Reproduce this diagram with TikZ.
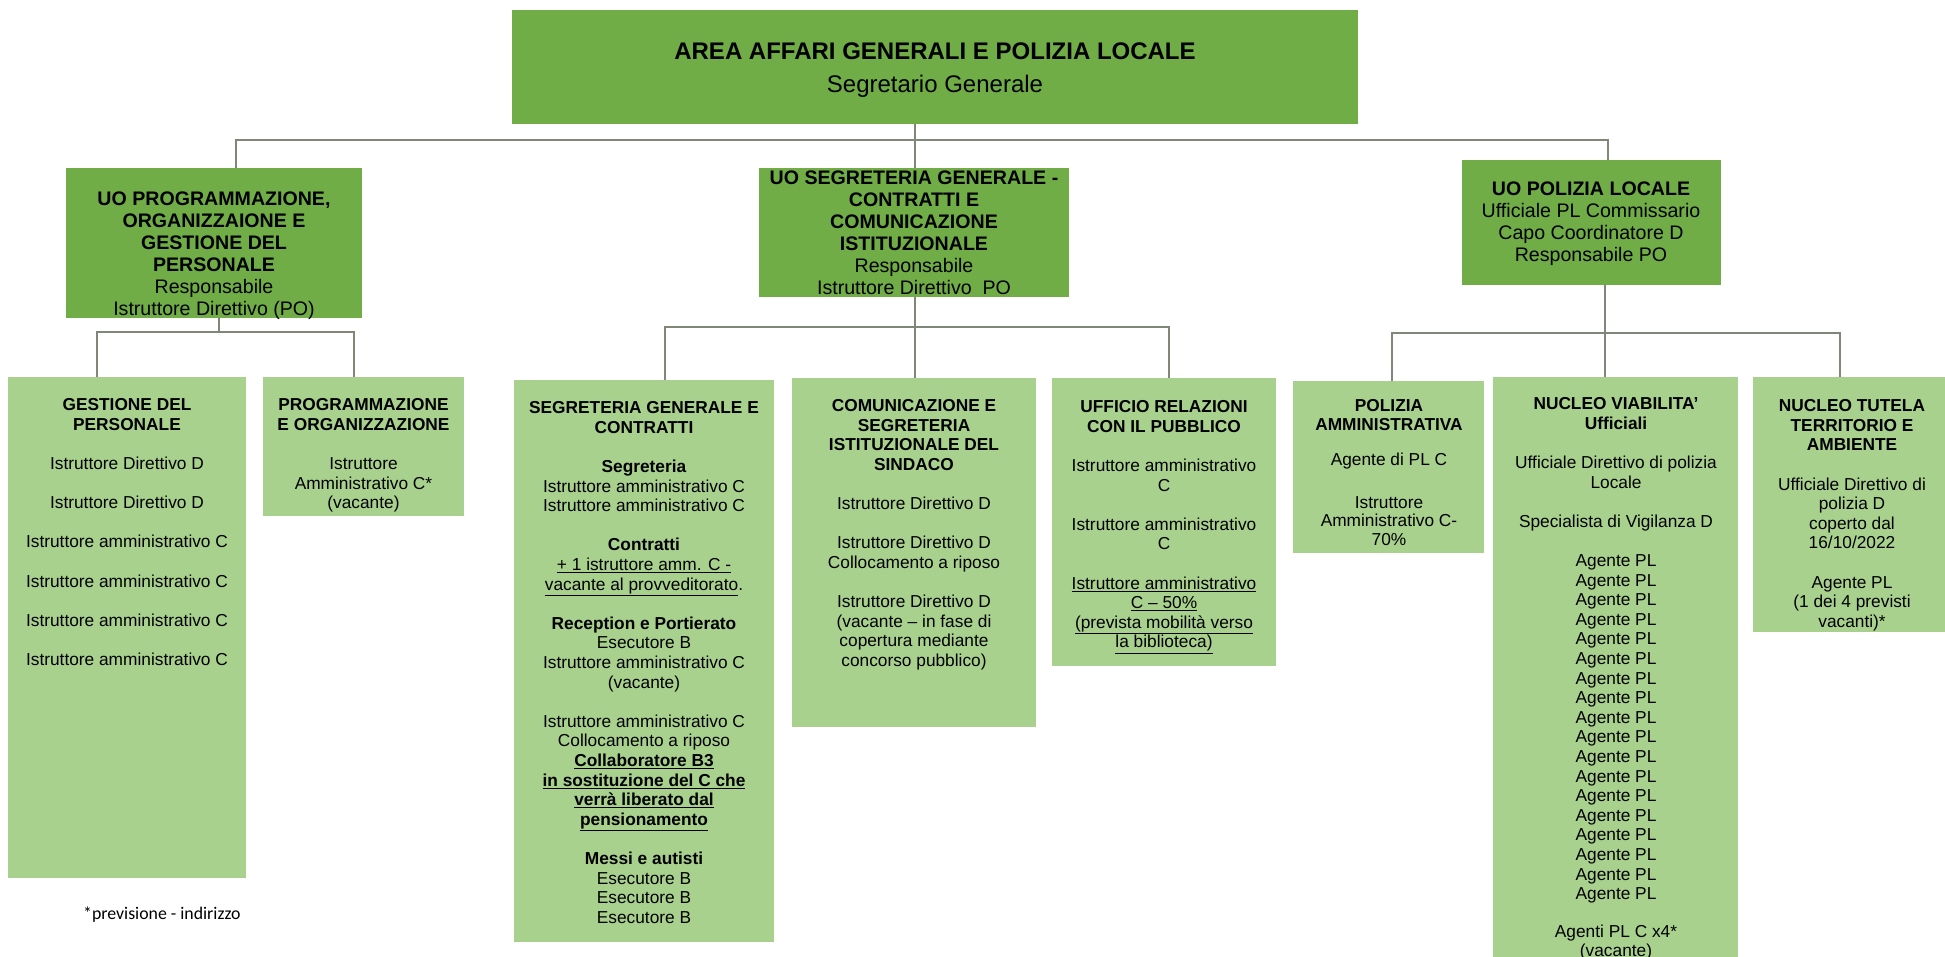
\documentclass[tikz,border=0pt]{standalone}
\usepackage{fontspec}
\setmainfont{Liberation Sans}
\newfontfamily\calib{Carlito}
\definecolor{dkg}{HTML}{70AD47}
\definecolor{ltg}{HTML}{A9D18E}
\definecolor{lnc}{HTML}{7F8779}
\begin{document}
\begin{tikzpicture}[x=1pt,y=-1pt,
  dbox/.style={fill=dkg, anchor=north west, inner sep=0, outer sep=0},
  lbox/.style={fill=ltg, anchor=north west, inner sep=0, outer sep=0},
  ttl/.style={anchor=north, align=center, inner sep=0, font=\fontsize{24}{32.5}\selectfont},
  utxt/.style={anchor=north, align=center, inner sep=0, font=\fontsize{19.6}{22}\selectfont},
  ltxt/.style={anchor=north, align=center, inner sep=0, font=\fontsize{17.3}{19.6}\selectfont},
  conn/.style={draw=lnc, line width=1.4pt}]
\useasboundingbox (0,0) rectangle (1945,957);

% top box
\node[dbox, minimum width=846, minimum height=114] (top) at (512,10) {};
\node[ttl] (topT) at (935,43) {\textbf{AREA AFFARI GENERALI E POLIZIA  LOCALE}\\Segretario Generale};

% upper tier
\node[dbox, minimum width=296, minimum height=150] (uoprog) at (66,168) {};
\node[utxt] (uoprogT) at (214,191.5) {\textbf{UO PROGRAMMAZIONE,}\\\textbf{ORGANIZZAIONE E}\\\textbf{GESTIONE DEL}\\\textbf{PERSONALE}\\Responsabile\\Istruttore Direttivo (PO)};

\node[dbox, minimum width=310, minimum height=129] (uoseg) at (759,168) {};
\node[utxt] (uosegT) at (914,170.8) {\textbf{UO SEGRETERIA GENERALE -}\\\textbf{CONTRATTI E}\\\textbf{COMUNICAZIONE}\\\textbf{ISTITUZIONALE}\\Responsabile\\Istruttore Direttivo\ \ PO};

\node[dbox, minimum width=259, minimum height=125] (uopol) at (1462,160) {};
\node[utxt] (uopolT) at (1591,181.8) {\textbf{UO POLIZIA LOCALE}\\Ufficiale PL Commissario\\Capo Coordinatore D\\Responsabile PO};

% lower tier boxes
\node[lbox, minimum width=238, minimum height=501] (gest) at (8,377) {};
\node[ltxt] (gestT) at (127,398.5) {\textbf{GESTIONE DEL}\\\textbf{PERSONALE}\\[19.6pt]
Istruttore Direttivo D\\[19.6pt]
Istruttore Direttivo D\\[19.6pt]
Istruttore amministrativo C\\[19.6pt]
Istruttore amministrativo C\\[19.6pt]
Istruttore amministrativo C\\[19.6pt]
Istruttore amministrativo C};

\node[lbox, minimum width=201, minimum height=139] (prog) at (263,377) {};
\node[ltxt] (progT) at (363.5,398.5) {\textbf{PROGRAMMAZIONE}\\\textbf{E ORGANIZZAZIONE}\\[19.6pt]
Istruttore\\Amministrativo C*\\(vacante)};

\node[lbox, minimum width=260, minimum height=562] (seggen) at (514,380) {};
\node[ltxt] (seggenT) at (644,401.5) {\textbf{SEGRETERIA GENERALE E}\\\textbf{CONTRATTI}\\[19.6pt]
\textbf{Segreteria}\\Istruttore amministrativo C\\Istruttore amministrativo C\\[19.6pt]
\textbf{Contratti}\\\underline{+ 1 istruttore amm. C -}\\\underline{vacante al provveditorato}.\\[19.6pt]
\textbf{Reception e Portierato}\\Esecutore B\\Istruttore amministrativo C\\(vacante)\\[19.6pt]
Istruttore amministrativo C\\Collocamento a riposo\\\textbf{\underline{Collaboratore B3}}\\\textbf{\underline{in sostituzione del C che}}\\\textbf{\underline{verrà liberato dal}}\\\textbf{\underline{pensionamento}}\\[19.6pt]
\textbf{Messi e autisti}\\Esecutore B\\Esecutore B\\Esecutore B};

\node[lbox, minimum width=244, minimum height=349] (com) at (792,378) {};
\node[ltxt] (comT) at (914,399.5) {\textbf{COMUNICAZIONE E}\\\textbf{SEGRETERIA}\\\textbf{ISTITUZIONALE DEL}\\\textbf{SINDACO}\\[19.6pt]
Istruttore Direttivo D\\[19.6pt]
Istruttore Direttivo D\\Collocamento a riposo\\[19.6pt]
Istruttore Direttivo D\\(vacante – in fase di\\copertura mediante\\concorso pubblico)};

\node[lbox, minimum width=224, minimum height=288] (urp) at (1052,378) {};
\node[ltxt] (urpT) at (1164,400.5) {\textbf{UFFICIO RELAZIONI}\\\textbf{CON IL PUBBLICO}\\[19.6pt]
Istruttore amministrativo\\C\\[19.6pt]
Istruttore amministrativo\\C\\[19.6pt]
\underline{Istruttore amministrativo}\\\underline{C – 50\%}\\\underline{(prevista mobilità verso}\\\underline{la biblioteca)}};

\node[lbox, minimum width=191, minimum height=172] (polamm) at (1293,381) {};
\node[ltxt, font=\fontsize{17.3}{18.5}\selectfont] (polammT) at (1389,399.5) {\textbf{POLIZIA}\\\textbf{AMMINISTRATIVA}\\[16.5pt]
Agente di PL C\\[24.5pt]
Istruttore\\Amministrativo C-\\70\%};

\node[lbox, minimum width=245, minimum height=580] (nviab) at (1493,377) {};
\node[ltxt] (nviabT) at (1616,397.5) {\textbf{NUCLEO VIABILITA’}\\\textbf{Ufficiali}\\[19.6pt]
Ufficiale Direttivo di polizia\\Locale\\[19.6pt]
Specialista di Vigilanza D\\[19.6pt]
Agente PL\\Agente PL\\Agente PL\\Agente PL\\Agente PL\\Agente PL\\Agente PL\\Agente PL\\Agente PL\\Agente PL\\Agente PL\\Agente PL\\Agente PL\\Agente PL\\Agente PL\\Agente PL\\Agente PL\\Agente PL\\[18pt]
Agenti PL C x4*\\[-0.8pt](vacante)};

\node[lbox, minimum width=192, minimum height=255] (ntut) at (1753,377) {};
\node[ltxt] (ntutT) at (1852,399.5) {\textbf{NUCLEO TUTELA}\\\textbf{TERRITORIO E}\\\textbf{AMBIENTE}\\[19.6pt]
Ufficiale Direttivo di\\polizia D\\coperto dal\\16/10/2022\\[19.6pt]
Agente PL\\(1 dei 4 previsti\\vacanti)*};

% footnote
\node[anchor=base west, inner sep=0, font=\calib\fontsize{17.8}{20}\selectfont] (note) at (83,919) {*previsione - indirizzo};

% connectors level 1
\coordinate (bL) at (236,140);
\coordinate (bM) at (915,140);
\coordinate (bR) at (1608,140);
\draw[conn] (uoprog.north -| bL) -- (bL) -- (bR) -- (uopol.north -| bR);
\draw[conn] (top.south -| bM) -- (uoseg.north -| bM);

% connectors level 2
\coordinate (pm) at (219,332);
\coordinate (pa) at (97,332);
\coordinate (pb) at (354,332);
\draw[conn] (uoprog.south -| pm) -- (pm);
\draw[conn] (gest.north -| pa) -- (pa) -- (pb) -- (prog.north -| pb);

\coordinate (sm) at (915,327);
\coordinate (sa) at (665,327);
\coordinate (sb) at (1169,327);
\draw[conn] (uoseg.south -| sm) -- (com.north -| sm);
\draw[conn] (seggen.north -| sa) -- (sa) -- (sb) -- (urp.north -| sb);

\coordinate (qm) at (1605,333);
\coordinate (qa) at (1392,333);
\coordinate (qb) at (1840,333);
\draw[conn] (uopol.south -| qm) -- (nviab.north -| qm);
\draw[conn] (polamm.north -| qa) -- (qa) -- (qb) -- (ntut.north -| qb);
\end{tikzpicture}
\end{document}
